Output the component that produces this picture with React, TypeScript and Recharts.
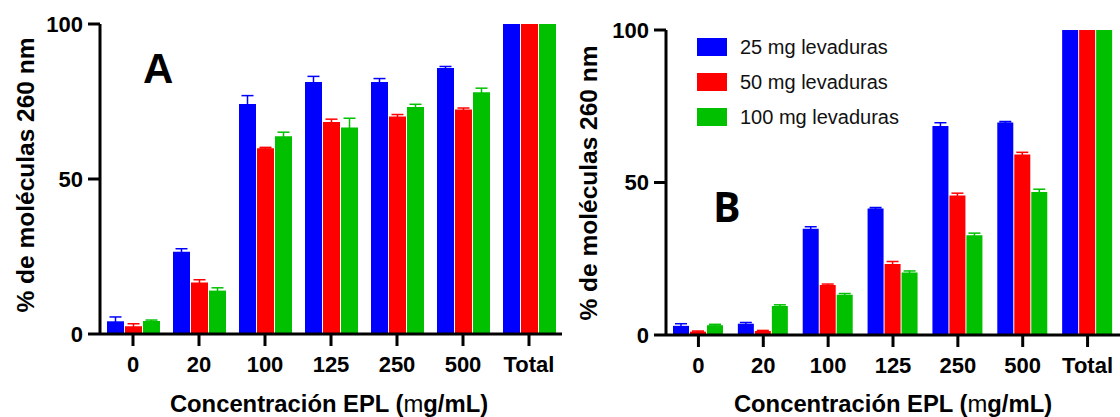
import React from 'react';
import { BarChart, Bar, XAxis, YAxis, ErrorBar, Legend } from 'recharts';

const categories = ['0', '20', '100', '125', '250', '500', 'Total'];
const seriesNames = ['25 mg levaduras', '50 mg levaduras', '100 mg levaduras'];
const yTicks = [0, 50, 100];

// panel A
const a25 = [4.1, 26.5, 74.2, 81.3, 81.3, 85.8, 100];
const a25Err = [1.4, 1.0, 2.7, 1.8, 1.1, 0.5, 0];
const a50 = [2.5, 16.6, 59.9, 68.4, 70.2, 72.4, 100];
const a50Err = [0.8, 0.9, 0.3, 0.9, 0.6, 0.5, 0];
const a100 = [4.2, 14.0, 63.8, 66.6, 73.2, 78.0, 100];
const a100Err = [0.3, 0.9, 1.3, 3.0, 0.9, 1.3, 0];

// panel B
const b25 = [3.0, 3.7, 34.8, 41.5, 68.5, 69.7, 100];
const b25Err = [0.7, 0.4, 0.7, 0.3, 1.1, 0.3, 0];
const b50 = [1.1, 1.3, 16.4, 23.3, 45.7, 59.2, 100];
const b50Err = [0.2, 0.2, 0.3, 0.8, 0.8, 0.7, 0];
const b100 = [3.2, 9.5, 13.2, 20.5, 32.7, 46.9, 100];
const b100Err = [0.3, 0.4, 0.4, 0.5, 0.7, 0.9, 0];

const colors = ['#0000FF', '#FF0000', '#00C000'];
const font = 'Liberation Sans, Arial, sans-serif';

const buildRows = (s1: number[], e1: number[], s2: number[], e2: number[], s3: number[], e3: number[]) =>
  categories.map((name, i) => ({
    name,
    s1: s1[i], e1: e1[i],
    s2: s2[i], e2: e2[i],
    s3: s3[i], e3: e3[i],
  }));

const dataA = buildRows(a25, a25Err, a50, a50Err, a100, a100Err);
const dataB = buildRows(b25, b25Err, b50, b50Err, b100, b100Err);

const axisStyle = { stroke: '#000', strokeWidth: 3 };
const tickStyle = { fill: '#000', fontSize: 22, fontWeight: 'bold', fontFamily: font };

const xTitle = (cx: number) => () => (
  <text x={cx} y={412} textAnchor="middle" fontFamily={font} fontWeight="bold" fontSize={23.8} fill="#000">
    Concentración EPL (<tspan fontWeight="normal">m</tspan>g/mL)
  </text>
);

const yTitle = (bx: number, cy: number, letter: string, lx: number, ly: number, letterFont: string, letterSize: number) => () => (
  <g>
    <text
      x={bx}
      y={cy}
      transform={`rotate(-90 ${bx} ${cy})`}
      textAnchor="middle"
      fontFamily={font}
      fontWeight="bold"
      fontSize={24.5}
      fill="#000"
    >
      % de moléculas 260 nm
    </text>
    <text x={lx} y={ly} fontFamily={letterFont} fontWeight="bold" fontSize={letterSize} fill="#000">
      {letter}
    </text>
  </g>
);

const LegendBox = (props: any) => {
  const items = [...(props.payload || [])].sort(
    (a: any, b: any) => seriesNames.indexOf(a.value) - seriesNames.indexOf(b.value)
  );
  return (
    <div>
      {items.map((entry: any) => (
        <div key={entry.value} style={{ display: 'flex', alignItems: 'flex-start', height: 18, marginBottom: 17 }}>
          <span style={{ width: 30, height: 18, background: entry.color, display: 'inline-block' }} />
          <span style={{ marginLeft: 13, fontFamily: font, fontSize: 20, lineHeight: '18px', color: '#111', whiteSpace: 'nowrap' }}>
            {entry.value}
          </span>
        </div>
      ))}
    </div>
  );
};

const Panel = ({ data, width, top, bottomH, yW, barSize, title, legend }: any) => (
  <BarChart
    width={width}
    height={417}
    data={data}
    margin={{ top, right: 0, bottom: 0, left: 0 }}
    barSize={barSize}
    barGap={1}
  >
    <XAxis
      dataKey="name"
      height={bottomH}
      axisLine={axisStyle}
      tickLine={axisStyle}
      tickSize={12}
      tickMargin={10}
      tick={tickStyle}
      interval={0}
      label={title.x}
    />
    <YAxis
      domain={[0, 100]}
      ticks={yTicks}
      allowDataOverflow
      width={yW}
      axisLine={axisStyle}
      tickLine={axisStyle}
      tickSize={12}
      tickMargin={5}
      tick={tickStyle}
      label={title.y}
    />
    {legend && (
      <Legend
        content={<LegendBox />}
        layout="vertical"
        align="center"
        verticalAlign="middle"
        wrapperStyle={{ left: 137, top: 38, width: 'auto' }}
      />
    )}
    {['s1', 's2', 's3'].map((k, i) => (
      <Bar key={k} dataKey={k} name={seriesNames[i]} fill={colors[i]} isAnimationActive={false}>
        <ErrorBar dataKey={`e${i + 1}`} width={6} strokeWidth={1.5} stroke={colors[i]} direction="y" isAnimationActive={false} />
      </Bar>
    ))}
  </BarChart>
);

export default function App() {
  return (
    <div style={{ position: 'absolute', left: 0, top: 0, width: 1120, height: 417, background: '#fff', overflow: 'hidden' }}>
      <div style={{ position: 'absolute', left: 0, top: 0 }}>
        <Panel
          data={dataA}
          width={562}
          top={24}
          bottomH={83}
          yW={100}
          barSize={17}
          title={{ x: xTitle(329), y: yTitle(34, 175, 'A', 143, 83, font, 42) }}
        />
      </div>
      <div style={{ position: 'absolute', left: 560, top: 0 }}>
        <Panel
          data={dataB}
          width={560}
          top={30}
          bottomH={82}
          yW={106}
          barSize={16}
          legend
          title={{ x: xTitle(333), y: yTitle(37, 183, 'B', 153, 222, 'Open Sans, sans-serif', 41) }}
        />
      </div>
    </div>
  );
}
